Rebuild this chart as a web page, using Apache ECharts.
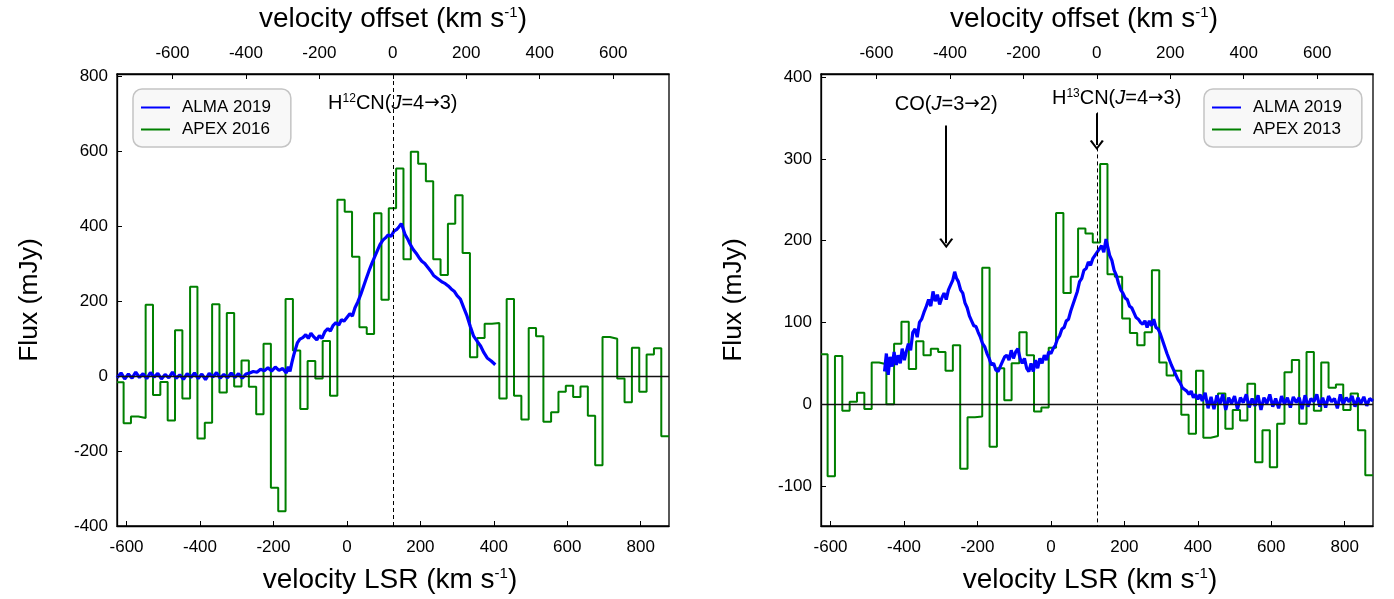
<!DOCTYPE html>
<html>
<head>
<meta charset="utf-8">
<script src="https://cdn.jsdelivr.net/npm/echarts@6/dist/echarts.min.js"></script>
<style>
html,body{margin:0;padding:0;background:#fff;}
#c{width:1394px;height:599px;}
</style>
</head>
<body>
<div id="c"></div>
<script>
// ---------- DATA ----------
// APEX channel left edges (km/s, LSR); first entry starts at the plot edge
const apexEdges = [-626,-608,-588,-568,-548,-528,-508,-488,-468,-448,-427,-407,-387,-367,-347,-327,-307,-287,-267,-247,-227,-207,-187,-167,-147,-127,-107,-86,-66,-46,-26,-6,14,34,54,74,94,114,134,154,174,194,215,235,255,275,295,315,335,355,375,395,415,435,455,475,495,515,535,556,576,596,616,636,656,676,696,716,736,756,776,796,816,836,856];
const apexEnd = 877;
// APEX 2016 (left panel, H12CN 4-3), mJy
const apex2016 = [-17,-126,-108,-112,190,-51,-16,-119,122,-60,238,-167,-125,191,-44,168,-28,41,-29,-102,86,-298,-361,205,68,-88,40,-7,93,-53,470,438,318,130,112,434,203,447,553,311,598,566,519,311,269,406,482,328,50,101,139,141,-60,205,-53,-116,128,106,-122,-97,-42,-26,-56,-28,-106,-238,104,99,-7,-70,75,-42,57,74,-161];
// APEX 2013 (right panel, H13CN 4-3), mJy
const apex2013 = [61,-88,59,-8,3,14,-6,51,49,0,74,101,43,77,60,68,64,41,72,-79,-16,-15,167,-52,44,5,50,88,60,-9,-4,69,234,136,156,215,209,198,294,159,156,105,87,72,88,164,51,35,41,-13,-36,41,-41,-39,13,-30,-7,-20,25,-71,-32,-77,-24,39,54,-24,64,-8,51,20,24,-7,13,-32,-87];

// ALMA 2019 left panel (H12CN): velocities and fluxes
const almaLeftVel = [-626,-615,-605,-595,-585,-575,-565,-555,-545,-535,-525,-515,-505,-495,-485,-475,-465,-455,-445,-435,-425,-415,-405,-395,-385,-375,-365,-355,-345,-335,-325,-315,-305,-295,-285,-275,-265,-255,-245,-235,-225,-215,-205,-195,-185,-175,-165,-160,-155,-150,-145,-140,-135,-128,-120,-112,-105,-98,-90,-82,-75,-68,-60,-52,-45,-38,-30,-22,-15,-8,0,8,15,22,30,38,45,52,60,68,75,82,90,98,105,112,120,128,135,142,148,152,158,165,172,180,188,196,204,212,220,228,236,244,252,260,268,276,284,292,300,309,318,327,336,345,355,364,373,382,393,404];
const almaLeftFlux = [-5,8,-8,5,-6,10,-4,6,-7,9,-3,7,-8,4,-5,10,-6,3,-9,6,-4,8,-7,5,-10,7,-3,9,-6,4,-5,8,-4,6,-6,5,8,12,10,18,14,22,13,24,15,20,8,25,12,35,55,72,88,98,102,110,100,114,104,96,108,100,118,126,120,134,142,136,150,146,156,166,160,182,198,218,238,258,280,300,316,332,350,362,368,376,372,386,390,398,406,396,378,366,352,338,328,316,306,300,290,280,268,262,256,250,246,240,232,226,214,205,182,160,132,106,92,80,62,48,40,30];

// ALMA 2019 right panel (CO 3-2 + H13CN 4-3)
const almaRightVel = [-453,-448,-443,-438,-432,-427,-421,-416,-410,-405,-399,-394,-388,-382,-376,-370,-364,-358,-352,-346,-339,-333,-327,-321,-315,-309,-303,-297,-291,-285,-279,-273,-267,-262,-257,-252,-246,-240,-234,-228,-222,-216,-210,-204,-198,-192,-186,-180,-174,-168,-162,-156,-150,-144,-138,-132,-126,-120,-114,-108,-102,-96,-90,-84,-78,-72,-66,-60,-54,-48,-42,-36,-30,-24,-18,-12,-6,0,6,12,18,24,30,36,42,48,54,60,66,72,78,84,90,96,102,108,114,120,126,132,138,144,150,155,160,166,172,178,184,190,196,202,208,214,220,226,232,238,244,250,256,262,268,274,280,286,292,298,304,310,316,322,328,334,340,346,352,358,364,370,376,382,388,394,400,406,412,420,428,436,444,452,460,468,476,484,492,500,508,516,524,532,540,548,556,564,572,580,588,596,604,612,620,628,636,644,652,660,668,676,684,692,700,708,716,724,732,740,748,756,764,772,780,788,796,804,812,820,828,836,844,852,860,868,877];
const almaRightFlux = [40,62,36,58,46,64,48,60,50,68,54,64,74,66,88,92,82,100,104,112,120,128,120,138,126,134,122,130,136,128,140,146,152,162,154,150,140,136,124,118,108,102,96,95,88,82,74,70,62,56,48,50,42,40,46,52,58,60,54,66,56,64,68,56,50,56,44,40,50,40,54,44,56,50,60,54,64,62,68,72,80,84,92,94,102,104,114,122,130,138,150,154,164,166,174,170,178,182,186,190,194,186,202,192,182,176,164,158,148,140,136,130,128,120,118,112,106,104,100,98,102,94,102,96,104,94,92,86,78,70,62,55,48,42,36,30,26,20,18,16,12,16,8,12,6,12,4,14,-5,9,-6,11,0,12,-7,8,1,10,-6,8,2,12,-4,7,-2,11,-7,8,1,12,-3,7,-5,10,0,8,-4,9,2,8,-6,11,-3,7,3,12,-3,8,-4,10,3,7,-5,12,0,8,3,10,-3,8,1,9,-2,7,4];

// tick labels
const lsrTicks = [-600,-400,-200,0,200,400,600,800];
const offsetTicks = [-600,-400,-200,0,200,400,600];
const leftYTicks = [-400,-200,0,200,400,600,800];
const rightYTicks = [-100,0,100,200,300,400];
const lsrRange = [-626, 877];
const lineCentre = 125; // LSR velocity of the line rest frequency (offset 0)
const leftYRange = [-400, 805];
const rightYRange = [-149, 404];

// annotation anchor points (data coordinates)
const h12Label = [125, 727];
const coLabel = [-285, 367];
const h13Label = [179, 374];
const coArrow = [[-285, 341], [-285, 197]];
const h13Arrow = [[125, 356], [125, 317]];
const h13Dash = [[125, 357], [125, -149]];

// ---------- BUILD ----------
function stepData(vals){
  const d = apexEdges.map((e,i)=>[e, vals[i]]);
  d.push([apexEnd, vals[vals.length-1]]);
  return d;
}
function pairs(xs, ys){ return xs.map((x,i)=>[x, ys[i]]); }

const FONT = '"Liberation Sans", Arial, Helvetica, sans-serif';
const BLUE = '#0000ff', GREEN = '#008000';

function xAx(grid, pos, range, ticks, name, shift){
  return {
    type:'value', gridIndex:grid, position:pos, min:range[0], max:range[1],
    name:name, nameLocation:'middle', nameGap: pos==='bottom'?40:41,
    nameTextStyle:{fontFamily:FONT, fontSize:28, color:'#000', padding:[0, shift, 0, 0],
      rich:{sup:{fontFamily:FONT, fontSize:15, color:'#000', padding:[0,0,13,0]}}},
    axisLine:{show:true, onZero:false, lineStyle:{color:'#000', width:1.3}},
    axisTick:{show:true, inside:true, length:5, customValues:ticks, lineStyle:{color:'#000'}},
    axisLabel:{show:true, customValues:ticks, fontFamily:FONT, fontSize:17, color:'#000', margin: pos==='bottom'?13:12},
    splitLine:{show:false}
  };
}
function yAx(grid, range, ticks){
  return {
    type:'value', gridIndex:grid, min:range[0], max:range[1],
    name:'Flux (mJy)', nameLocation:'middle', nameGap:74, nameRotate:90,
    nameTextStyle:{fontFamily:FONT, fontSize:26.5, color:'#000'},
    axisLine:{show:true, onZero:false, lineStyle:{color:'#000', width:1.3}},
    axisTick:{show:true, inside:true, length:5, customValues:ticks, lineStyle:{color:'#000'}},
    axisLabel:{show:true, customValues:ticks, fontFamily:FONT, fontSize:17, color:'#000', margin:9},
    splitLine:{show:false}
  };
}
const offRange = [lsrRange[0]-lineCentre, lsrRange[1]-lineCentre];
const lsrName = 'velocity LSR (km s{sup|-1})';
const offName = 'velocity offset (km s{sup|-1})';

const labelRich = {
  t:{fontFamily:FONT, fontSize:20, color:'#000'},
  i:{fontFamily:FONT, fontSize:20, color:'#000', fontStyle:'italic'},
  a:{fontFamily:'"DejaVu Sans", sans-serif', fontSize:18.5, color:'#000'},
  s:{fontFamily:FONT, fontSize:12, color:'#000', padding:[0,0,9,0]}
};
function textPoint(coord, text){
  return {coord:coord, symbol:'circle', symbolSize:0,
    label:{show:true, position:'inside', formatter:text, rich:labelRich}};
}
const chevron = 'path://M0,10 L5,0 L10,10 L8.6,11 L5,3.4 L1.4,11 Z';
const arrowEnd = {symbol:chevron, symbolSize:[14,10], lineStyle:{type:'solid', width:2}};

const zeroLine = {silent:true, symbol:'none', label:{show:false},
  lineStyle:{color:'#111', width:1.3, type:'solid'}, data:[{yAxis:0}]};

function grid(l){ return {left:l, top:72, width:552, height:456, show:true, borderColor:'#000', borderWidth:1.3, backgroundColor:'#fff'}; }

function legend(left, names){
  return {left:left, top:89, orient:'vertical', icon:'rect', itemWidth:29, itemHeight:2, itemGap:5,
     padding:[10,20,9,8], borderColor:'#c4c4c4', borderWidth:1.5, borderRadius:9,
     backgroundColor:'rgba(248,248,248,0.96)', data:names,
     textStyle:{fontFamily:FONT, fontSize:17, color:'#000', padding:[0,0,0,7], lineHeight:17}};
}

const option = {
  animation:false,
  backgroundColor:'#fff',
  textStyle:{fontFamily:FONT},
  grid:[grid(117), grid(821)],
  xAxis:[
    xAx(0,'bottom',lsrRange,lsrTicks,lsrName,6),
    xAx(0,'top',offRange,offsetTicks,offName,0),
    xAx(1,'bottom',lsrRange,lsrTicks,lsrName,14),
    xAx(1,'top',offRange,offsetTicks,offName,26)
  ],
  yAxis:[yAx(0,leftYRange,leftYTicks), yAx(1,rightYRange,rightYTicks)],
  legend:[legend(133, ['ALMA 2019','APEX 2016']), legend(1204, ['ALMA 2019','APEX 2013'])],
  series:[
    {name:'APEX 2016', type:'line', xAxisIndex:0, yAxisIndex:0, step:'end', symbol:'none',
     data:stepData(apex2016), lineStyle:{color:GREEN, width:2}, itemStyle:{color:GREEN},
     markLine:zeroLine, z:2},
    {name:'ALMA 2019', type:'line', xAxisIndex:0, yAxisIndex:0, symbol:'none',
     data:pairs(almaLeftVel, almaLeftFlux), lineStyle:{color:BLUE, width:3.2}, itemStyle:{color:BLUE}, z:3,
     markLine:{silent:true, symbol:'none', label:{show:false},
       lineStyle:{color:'#000', width:1, type:[4,3]}, data:[{xAxis:lineCentre}]},
     markPoint:{data:[textPoint(h12Label, '{t|H}{s|12}{t|CN(}{i|J}{t|=4}{a|→}{t|3)}')]}},
    {name:'APEX 2013', type:'line', xAxisIndex:2, yAxisIndex:1, step:'end', symbol:'none',
     data:stepData(apex2013), lineStyle:{color:GREEN, width:2}, itemStyle:{color:GREEN},
     markLine:zeroLine, z:2},
    {name:'ALMA 2019', type:'line', xAxisIndex:2, yAxisIndex:1, symbol:'none',
     data:pairs(almaRightVel, almaRightFlux), lineStyle:{color:BLUE, width:3.2}, itemStyle:{color:BLUE}, z:3,
     markLine:{silent:true, label:{show:false}, symbol:'none',
       lineStyle:{color:'#000', width:1, type:[4,3]},
       data:[
         [{coord:h13Dash[0]}, {coord:h13Dash[1]}],
         [{coord:coArrow[0], symbol:'none'}, Object.assign({coord:coArrow[1]}, arrowEnd)],
         [{coord:h13Arrow[0], symbol:'none'}, Object.assign({coord:h13Arrow[1]}, arrowEnd)]
       ]},
     markPoint:{data:[
       textPoint(coLabel, '{t|CO(}{i|J}{t|=3}{a|→}{t|2)}'),
       textPoint(h13Label, '{t|H}{s|13}{t|CN(}{i|J}{t|=4}{a|→}{t|3)}')
     ]}}
  ]
};
const chart = echarts.init(document.getElementById('c'), null, {renderer:'canvas'});
chart.setOption(option);
</script>
</body>
</html>
